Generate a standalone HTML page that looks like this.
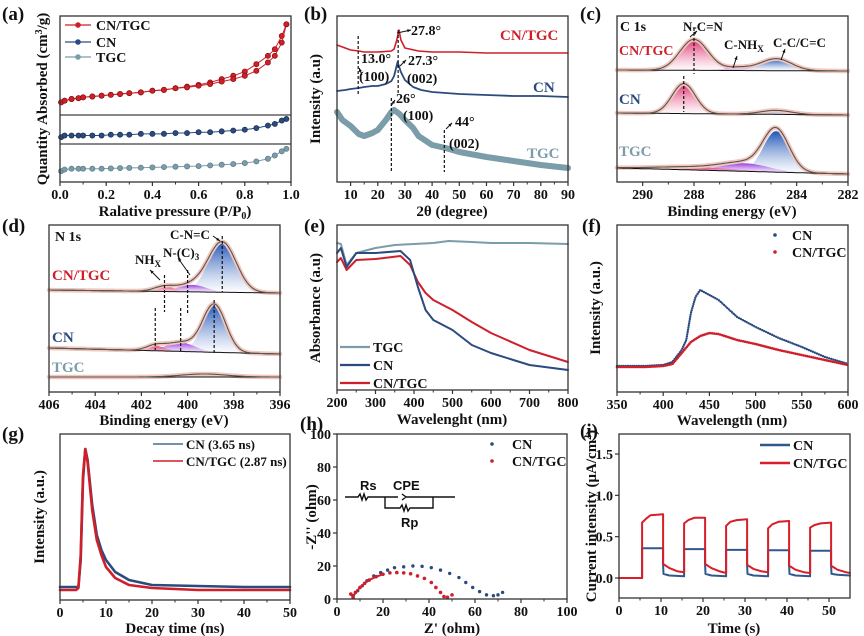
<!DOCTYPE html>
<html><head><meta charset="utf-8"><style>
body{margin:0;background:#fff;}
svg{display:block;font-family:"Liberation Serif",serif;font-weight:bold;}
</style></head><body>
<svg id="fig" width="864" height="636" viewBox="0 0 864 636" xmlns="http://www.w3.org/2000/svg">
<defs>
<linearGradient id="gPink" x1="0" y1="0" x2="0" y2="1"><stop offset="0" stop-color="#e0306e"/><stop offset="1" stop-color="#fff" stop-opacity="0.6"/></linearGradient>
<linearGradient id="gBlue" x1="0" y1="0" x2="0" y2="1"><stop offset="0" stop-color="#1f55b8"/><stop offset="1" stop-color="#fff" stop-opacity="0.6"/></linearGradient>
<linearGradient id="gPurp" x1="0" y1="0" x2="0" y2="1"><stop offset="0" stop-color="#9a3ee0"/><stop offset="1" stop-color="#fff" stop-opacity="0.6"/></linearGradient>
</defs>
</svg>
<script>
// ---------- data ----------
// (a) BET isotherms
const pA=[0.005,0.02,0.05,0.08,0.1,0.14,0.18,0.22,0.26,0.3,0.35,0.4,0.45,0.5,0.55,0.6,0.65,0.7,0.75,0.8,0.85,0.9,0.93,0.96,0.98];
const aCNTGC=[48,49,50,50.5,51,51.5,52,52.5,53,53.5,54,55,55.5,56.5,57,58,59,60.5,62,64,67,72,76,84,95];
const aCNTGCdes=[48,49,50,50.5,51,51.5,52,52.5,53,53.5,54,55,55.5,56.5,57.5,58.5,60,62,64,66.5,71,76,80,88,95];
const aCN=[27,28,28,28,28,28,28,28.5,28.5,28.5,29,29,29,29.5,29.5,30,30,30.5,31,31.5,32.5,34,35,37,38];
const aTGC=[6.5,7.5,8,8,8,8,8,8.2,8.4,8.5,8.6,8.8,9,9.2,9.4,9.6,10,10.4,10.8,11.4,12.4,14,16,18.5,20];
const xTicksA=[0,0.2,0.4,0.6,0.8,1.0];
const xLabA=["0.0","0.2","0.4","0.6","0.8","1.0"];
// (b) XRD
const bX1=[5,8,10,13,15,20,25,26,27,27.8,28.5,30,35,40,50,60,70,80,90];
const bCNTGC=[137,134,132,131,130,130,131,133,142,152,142,134,131,130,130,129,129,129,129];
const bX2=[5,8,10,13,15,18,20,23,25,26,27.3,28.5,30,33,36,40,50,60,70,80,90];
const bCN=[91,92,93,94,95,96,96,98,101,106,120,110,102,95,92,90,88,87,86,86,85];
const bX3=[5,7,10,13,15,18,20,23,25,26,28,30,33,35,40,45,50,60,70,80,90];
const bTGC=[70,62,56,48,46,49,52,62,70,72,68,62,54,46,37,34,30,25,21,17,14];
const xTicksB=[10,20,30,40,50,60,70,80,90];
// (c) C1s fits
const cBase=[[112,111],[69,67],[14,8]];
const cCenters=[[288.0,286.3,284.8],[288.4,284.8],[284.8,286.0,288.0]];
const cHeights=[[31,3,12],[30,4],[41,8,3]];
const cSigmas=[[0.55,0.5,0.6],[0.45,0.6],[0.5,0.9,1.5]];
const cFills=[["gPink","gPurp","gBlue"],["gPink","gBlue"],["gBlue","gPurp","gPink"]];
const xTicksC=[290,288,286,284,282];
// (d) N1s fits
const dBase=[[102,99],[44,38],[15,15]];
const dCenters=[[398.5,399.8,401.0],[398.85,400.3,401.4],[399.3]];
const dHeights=[[50,7,5],[48,9,5],[3]];
const dSigmas=[[0.6,0.6,0.45],[0.5,0.6,0.4],[1.0]];
const dFills=[["gBlue","gPurp","gPink"],["gBlue","gPurp","gPink"],["gBlue"]];
const xTicksD=[406,404,402,400,398,396];
// (e) UV-vis
const eX1=[200,210,225,250,300,350,400,450,490,550,600,700,800];
const eTGC=[147,146,125,137,142,145,146,147,149,148,147,147,146];
const eX2=[200,210,225,250,300,365,390,410,430,450,500,550,600,700,800];
const eCN=[137,142,123,137,137,139,130,103,80,70,60,45,37,25,20];
const eCNTGC=[128,132,120,130,131,134,125,108,97,90,80,68,57,40,28];
const xTicksE=[200,300,400,500,600,700,800];
// (f) PL
const fX=[350,380,400,410,420,425,430,435,440,450,460,480,500,525,550,575,600];
const fCN=[26,26,27,30,42,52,79,95,102,97,92,75,65,54,45,35,28];
const fX2=[350,380,400,410,420,430,440,450,460,480,500,525,550,575,600];
const fCNTGC=[25,25,26,28,39,50,56,59,58,52,48,42,37,32,27];
const xTicksF=[350,400,450,500,550,600];
// (g) TRPL
const gX=[0,2,3.5,4,4.5,5,5.5,6,7,8,9,10,12,15,20,30,40,50];
const gCN=[13,13,13,13,40,120,151,140,95,65,50,40,28,20,15,14,13,13];
const gCNTGC=[10,10,10,12,45,125,151,138,90,60,45,33,22,15,12,10,10,10];
const xTicksG=[0,10,20,30,40,50];
// (h) EIS
const hXcn=[7,9,11,13,16,19,22,25,29,33,37,41,45,49,53,56,59,62,65,68,70,72];
const hYcn=[2,5,8,11,14,16,17.5,19,19.5,20,19.8,19,17.5,15.5,13,10,7,4.5,2.5,2,2.5,4];
const hXct=[6,7,8,10,12,14,17,20,23,26,29,32,35,38,41,43,45,46.5,48,50];
const hYct=[3,1,4,7,9.5,11.5,13.5,15,15.8,16,15.8,15.3,14,12.5,10,7,4,1.5,1,2.5];
const xTicksH=[0,20,40,60,80,100];
const yTicksH=[0,20,40,60,80,100];
// (i) photocurrent
const iTcn=[0,5.5,5.5,10.5,10.5,10.6,12,15.5,15.5,20.5,20.5,20.6,22,25.5,25.5,30.5,30.5,30.6,32,35.5,35.5,40.5,40.5,40.6,42,45.5,45.5,50.5,50.5,50.6,52,55];
const iCN=[0,0,0.36,0.36,0.16,0.05,0.03,0.02,0.35,0.35,0.16,0.05,0.03,0.02,0.34,0.34,0.16,0.05,0.03,0.02,0.335,0.335,0.15,0.05,0.03,0.02,0.33,0.33,0.15,0.05,0.04,0.03];
const iTct=[0,5.5,5.5,6.5,7.5,10.5,10.5,12,14,15.5,15.5,16.5,18,20.5,20.5,22,24,25.5,25.5,26.5,28,30.5,30.5,32,34,35.5,35.5,36.5,38,40.5,40.5,42,44,45.5,45.5,46.5,48,50.5,50.5,52,54,55];
const iCT=[0,0,0.67,0.72,0.76,0.77,0.17,0.12,0.08,0.07,0.66,0.7,0.73,0.73,0.17,0.12,0.08,0.06,0.63,0.68,0.70,0.71,0.16,0.11,0.08,0.07,0.6,0.65,0.68,0.69,0.15,0.1,0.07,0.06,0.61,0.64,0.66,0.67,0.15,0.1,0.07,0.06];
const xTicksI=[0,10,20,30,40,50];
const yTicksI=[0,0.5,1.0,1.5];
const yLabI=["0.0","0.5","1.0","1.5"];

// ---------- helpers ----------
const NS="http://www.w3.org/2000/svg";
const svg=document.getElementById('fig');
const RED="#cf1f2a",NAVY="#2b4a7e",TGCC="#7b9ca9";
function mk(tag,attrs,name,inter){
  const el=document.createElementNS(NS,tag);
  for(const k in attrs) el.setAttribute(k,attrs[k]);
  
  
  svg.appendChild(el);return el;
}
function txt(x,y,s,name,o){
  o=o||{};
  const el=mk('text',{x:x,y:y,'font-size':o.fs||13,fill:o.fill||'#111','text-anchor':o.anchor||'start','font-family':o.ff||'"Liberation Serif",serif'},name);
  if(o.rot) el.setAttribute('transform','rotate(-90 '+x+' '+y+')');
  el.innerHTML=s;return el;
}
function scale(d0,d1,r0,r1){return v=>r0+(v-d0)/(d1-d0)*(r1-r0);}
function panel(L,R,T,B,xd,yd){return {L,R,T,B,x:scale(xd[0],xd[1],L,R),y:scale(yd[0],yd[1],B,T)};}
function frame(P,key){mk('rect',{x:P.L,y:P.T,width:P.R-P.L,height:P.B-P.T,fill:'none',stroke:'#333','stroke-width':1.3},key+'-plot-frame');}
function xAxis(P,ticks,labels,minorStep,key){
  ticks.forEach((t,i)=>{const X=P.x(t);
    mk('line',{x1:X,x2:X,y1:P.B,y2:P.B+4,stroke:'#333','stroke-width':1.2},key+'-x-tick');
    txt(X,P.B+17,labels?labels[i]:String(t),key+'-x-tick-label',{anchor:'middle',fs:14});
    if(minorStep&&i<ticks.length-1){const Xm=P.x(t+minorStep);
      mk('line',{x1:Xm,x2:Xm,y1:P.B,y2:P.B+2.5,stroke:'#333','stroke-width':1},key+'-x-minor-tick');}
  });
}
function yAxis(P,ticks,labels,key){
  ticks.forEach((t,i)=>{const Y=P.y(t);
    mk('line',{x1:P.L-4,x2:P.L,y1:Y,y2:Y,stroke:'#333','stroke-width':1.2},key+'-y-tick');
    txt(P.L-6,Y+5,labels?labels[i]:String(t),key+'-y-tick-label',{anchor:'end',fs:14});
  });
}
function pathD(P,xs,ys){return xs.map((v,i)=>(i?'L':'M')+P.x(v).toFixed(1)+','+P.y(ys[i]).toFixed(1)).join('');}
function line(P,xs,ys,color,w,name,extra){const a={d:pathD(P,xs,ys),fill:'none',stroke:color,'stroke-width':w,'stroke-linejoin':'round','stroke-linecap':'round'};
  if(extra)for(const k in extra)a[k]=extra[k];return mk('path',a,name);}
function dots(P,xs,ys,color,r,name,stroke){xs.forEach((v,i)=>{mk('circle',{cx:P.x(v),cy:P.y(ys[i]),r:r,fill:color,stroke:stroke||'none','stroke-width':0.7},name);});}
function dashed(x1,y1,x2,y2,name){mk('line',{x1,y1,x2,y2,stroke:'#111','stroke-width':1.2,'stroke-dasharray':'3,2'},name);}
function arrow(x1,y1,x2,y2,name){mk('line',{x1,y1,x2,y2,stroke:'#111','stroke-width':1},name);
  const a=Math.atan2(y2-y1,x2-x1),s=4;
  mk('path',{d:'M'+x2+','+y2+'L'+(x2-s*Math.cos(a-0.4))+','+(y2-s*Math.sin(a-0.4))+'L'+(x2-s*Math.cos(a+0.4))+','+(y2-s*Math.sin(a+0.4))+'Z',fill:'#111'},name+'-head');}
function gauss(x,c,h,s){return h*Math.exp(-0.5*((x-c)/s)**2);}
function xps(P,x0,x1,base,cs,hs,ss,fills,key){
  const n=120,xs=[];for(let i=0;i<=n;i++)xs.push(x0+(x1-x0)*i/n);
  const bl=x=>base[0]+(base[1]-base[0])*(x-x0)/(x1-x0);
  cs.forEach((c,j)=>{
    let d='';xs.forEach((x,i)=>{d+=(i?'L':'M')+P.x(x).toFixed(1)+','+P.y(bl(x)+gauss(x,c,hs[j],ss[j])).toFixed(1);});
    for(let i=n;i>=0;i--)d+='L'+P.x(xs[i]).toFixed(1)+','+P.y(bl(xs[i])).toFixed(1);
    mk('path',{d:d+'Z',fill:'url(#'+fills[j]+')',stroke:'none'},key+'-component-peak');
  });
  const env=xs.map(x=>bl(x)+cs.reduce((s,c,j)=>s+gauss(x,c,hs[j],ss[j]),0));
  line(P,xs,env,'#f1c6bc',4.5,key+'-raw-data');
  line(P,xs,xs.map(bl),'#111',1,key+'-background');
  line(P,xs,env,'#555',1.1,key+'-envelope-fit');
}
function ylabel(x,cy,s,name){txt(x,cy,s,name,{anchor:'middle',rot:true,fs:15});}
function xlabel(cx,y,s,name){txt(cx,y,s,name,{anchor:'middle',fs:15});}

// ---------- (a) ----------
{const P=panel(60,291,16,182,[0,1],[0,100]);
 mk('line',{x1:60,x2:291,y1:115,y2:115,stroke:'#111','stroke-width':1},'a-separator');
 mk('line',{x1:60,x2:291,y1:144,y2:144,stroke:'#111','stroke-width':1},'a-separator');
 line(P,pA,aCNTGCdes,RED,1,'a-cntgc-desorption');dots(P,pA,aCNTGCdes,RED,2.6,'a-cntgc-desorption-marker','#8a1010');
 line(P,pA,aCNTGC,RED,1,'a-cntgc-adsorption');dots(P,pA,aCNTGC,RED,2.6,'a-cntgc-marker','#8a1010');
 line(P,pA,aCN,NAVY,1,'a-cn-line');dots(P,pA,aCN,NAVY,2.6,'a-cn-marker','#1a2f55');
 line(P,pA,aTGC,TGCC,1,'a-tgc-line');dots(P,pA,aTGC,TGCC,2.6,'a-tgc-marker','#5a7a88');
 frame(P,'a');xAxis(P,xTicksA,xLabA,0.1,'a');
 [[RED,'CN/TGC',25],[NAVY,'CN',42],[TGCC,'TGC',57]].forEach(r=>{
  mk('line',{x1:65,x2:91,y1:r[2],y2:r[2],stroke:r[0],'stroke-width':1.3},'a-legend-line');
  mk('circle',{cx:78,cy:r[2],r:2.8,fill:r[0]},'a-legend-marker');
  txt(96,r[2]+5,r[1],'a-legend-label',{fs:14});});
 xlabel(175,216,'Ralative pressure (P/P<tspan font-size="10" dy="3">0</tspan><tspan dy="-3">)</tspan>','a-x-axis-title');
 ylabel(47,99,'Quantity Absorbed (cm<tspan font-size="10" dy="-5">3</tspan><tspan dy="5">/g)</tspan>','a-y-axis-title');
 txt(2,20,'(a)','panel-label-a',{fs:19});}

// ---------- (b) ----------
{const P=panel(337,568,16,182,[5,90],[0,166]);
 line(P,bX3,bTGC,TGCC,6,'b-tgc-pattern');
 line(P,bX2,bCN,NAVY,1.8,'b-cn-pattern');
 line(P,bX1,bCNTGC,RED,1.6,'b-cntgc-pattern');
 frame(P,'b');xAxis(P,xTicksB,null,5,'b');
 dashed(P.x(12.8),36,P.x(12.8),96,'b-dash-13');dashed(P.x(27.5),30,P.x(27.5),93,'b-dash-27');
 dashed(P.x(25),98,P.x(25),172,'b-dash-26');dashed(P.x(44.5),130,P.x(44.5),172,'b-dash-44');
 arrow(397,33,411,30,'b-arrow-27-8');arrow(362,75,359,68,'b-arrow-13');arrow(400,66,406,60,'b-arrow-27-3');arrow(391,106,395,100,'b-arrow-26');arrow(446,129,452,123,'b-arrow-44');
 txt(411,35,'27.8°','b-label-27-8',{fs:14});txt(500,40,'CN/TGC','b-label-cntgc',{fs:15,fill:RED});
 txt(361,63,'13.0°','b-label-13',{fs:14});txt(359,81,'(100)','b-label-100a',{fs:14});
 txt(408,65,'27.3°','b-label-27-3',{fs:14});txt(407,83,'(002)','b-label-002a',{fs:14});
 txt(533,92,'CN','b-label-cn',{fs:15,fill:NAVY});
 txt(396,103,'26°','b-label-26',{fs:14});txt(403,120,'(100)','b-label-100b',{fs:14});
 txt(455,126,'44°','b-label-44',{fs:14});txt(449,148,'(002)','b-label-002b',{fs:14});
 txt(527,158,'TGC','b-label-tgc',{fs:15,fill:TGCC});
 xlabel(452,216,'2θ (degree)','b-x-axis-title');ylabel(320,99,'Intensity (a.u)','b-y-axis-title');
 txt(304,20,'(b)','panel-label-b',{fs:19});}

// ---------- (c) ----------
{const P=panel(617,848,16,182,[291,282],[0,166]);
 ['cntgc','cn','tgc'].forEach((k,i)=>xps(P,291,282,cBase[i],cCenters[i],cHeights[i],cSigmas[i],cFills[i],'c-'+k));
 frame(P,'c');xAxis(P,xTicksC,null,-1,'c');
 dashed(P.x(288.0),28,P.x(288.0),74,'c-dash-cntgc');dashed(P.x(288.4),76,P.x(288.4),112,'c-dash-cn');
 arrow(690,37,697,31,'c-arrow-ncn');arrow(733,68,737,56,'c-arrow-cnhx');arrow(781,60,785,49,'c-arrow-cc');
 txt(620,31,'C 1s','c-label-c1s',{fs:14});txt(683,31,'N-C=N','c-label-ncn',{fs:13});
 txt(619,55,'CN/TGC','c-label-cntgc',{fs:14,fill:RED});
 txt(724,49,'C-NH<tspan font-size="9" dy="3">X</tspan>','c-label-cnhx',{fs:13});
 txt(773,47,'C-C/C=C','c-label-cc',{fs:13});
 txt(619,104,'CN','c-label-cn',{fs:15,fill:NAVY});txt(619,156,'TGC','c-label-tgc',{fs:15,fill:TGCC});
 xlabel(732,216,'Binding energy (eV)','c-x-axis-title');
 txt(580,20,'(c)','panel-label-c',{fs:19});}

// ---------- (d) ----------
{const P=panel(49,280,225,392,[406,396],[0,167]);
 ['cntgc','cn','tgc'].forEach((k,i)=>xps(P,406,396,dBase[i],dCenters[i],dHeights[i],dSigmas[i],dFills[i],'d-'+k));
 frame(P,'d');xAxis(P,xTicksD,null,-1,'d');
 dashed(P.x(398.5),236,P.x(398.5),292,'d-dash-cnc-1');dashed(P.x(401.0),275,P.x(401.0),312,'d-dash-nhx-1');dashed(P.x(400.0),270,P.x(400.0),313,'d-dash-nc3-1');
 dashed(P.x(401.4),308,P.x(401.4),350,'d-dash-nhx-2');dashed(P.x(400.3),308,P.x(400.3),352,'d-dash-nc3-2');dashed(P.x(398.85),300,P.x(398.85),353,'d-dash-cnc-2');
 arrow(160,280,150,270,'d-arrow-nhx');arrow(190,275,178,258,'d-arrow-nc3');arrow(213,236,220,241,'d-arrow-cnc');
 txt(55,241,'N 1s','d-label-n1s',{fs:14});txt(170,239,'C-N=C','d-label-cnc',{fs:13});
 txt(135,264,'NH<tspan font-size="9" dy="3">X</tspan>','d-label-nhx',{fs:13});
 txt(163,257,'N-(C)<tspan font-size="9" dy="3">3</tspan>','d-label-nc3',{fs:13});
 txt(52,280,'CN/TGC','d-label-cntgc',{fs:15,fill:RED});txt(52,342,'CN','d-label-cn',{fs:15,fill:NAVY});
 txt(52,372,'TGC','d-label-tgc',{fs:15,fill:TGCC});
 xlabel(164,425,'Binding energy (eV)','d-x-axis-title');
 txt(2,232,'(d)','panel-label-d',{fs:19});}

// ---------- (e) ----------
{const P=panel(337,568,225,390,[200,800],[0,165]);
 line(P,eX1,eTGC,TGCC,2,'e-tgc-line');line(P,eX2,eCNTGC,RED,2,'e-cntgc-line');line(P,eX2,eCN,NAVY,2,'e-cn-line');
 frame(P,'e');xAxis(P,xTicksE,null,50,'e');
 [[TGCC,'TGC',347],[NAVY,'CN',365],[RED,'CN/TGC',383]].forEach(r=>{
  mk('line',{x1:340,x2:370,y1:r[2],y2:r[2],stroke:r[0],'stroke-width':2.2},'e-legend-line');
  txt(373,r[2]+5,r[1],'e-legend-label',{fs:14});});
 xlabel(452,424,'Wavelenght (nm)','e-x-axis-title');ylabel(320,308,'Absorbance (a.u)','e-y-axis-title');
 txt(304,232,'(e)','panel-label-e',{fs:19});}

// ---------- (f) ----------
{const P=panel(617,848,225,392,[350,600],[0,167]);
 line(P,fX,fCN,NAVY,2.4,'f-cn-points',{'stroke-dasharray':'0 2.2'});
 line(P,fX2,fCNTGC,RED,2.6,'f-cntgc-points',{'stroke-dasharray':'0 2'});
 frame(P,'f');xAxis(P,xTicksF,null,25,'f');
 mk('circle',{cx:775,cy:235,r:1.8,fill:NAVY},'f-legend-marker');txt(792,240,'CN','f-legend-label',{fs:14});
 mk('circle',{cx:775,cy:252,r:1.8,fill:RED},'f-legend-marker');txt(792,257,'CN/TGC','f-legend-label',{fs:14});
 xlabel(732,425,'Wavelength (nm)','f-x-axis-title');ylabel(600,308,'Intensity (a.u.)','f-y-axis-title');
 txt(582,232,'(f)','panel-label-f',{fs:19});}

// ---------- (g) ----------
{const P=panel(60,290,434,600,[0,50],[0,166]);
 line(P,gX,gCN,NAVY,2.6,'g-cn-decay');line(P,gX,gCNTGC,RED,2.6,'g-cntgc-decay');
 frame(P,'g');xAxis(P,xTicksG,null,5,'g');
 mk('line',{x1:153,x2:183,y1:444,y2:444,stroke:'#4a6a90','stroke-width':1.6},'g-legend-line');txt(186,449,'CN (3.65 ns)','g-legend-label',{fs:13});
 mk('line',{x1:153,x2:183,y1:461,y2:461,stroke:RED,'stroke-width':1.6},'g-legend-line');txt(186,466,'CN/TGC (2.87 ns)','g-legend-label',{fs:13});
 xlabel(175,633,'Decay time (ns)','g-x-axis-title');ylabel(44,517,'Intensity (a.u.)','g-y-axis-title');
 txt(2,440,'(g)','panel-label-g',{fs:19});}

// ---------- (h) ----------
{const P=panel(337,567,434,599,[0,100],[0,100]);
 dots(P,hXcn,hYcn,NAVY,1.7,'h-cn-point');dots(P,hXct,hYct,RED,1.8,'h-cntgc-point');
 line(P,hXct.slice(0,8),hYct.slice(0,8),RED,2,'h-cntgc-low-freq');
 frame(P,'h');xAxis(P,xTicksH,null,10,'h');yAxis(P,yTicksH,null,'h');
 mk('circle',{cx:492,cy:444,r:1.8,fill:NAVY},'h-legend-marker');txt(512,449,'CN','h-legend-label',{fs:14});
 mk('circle',{cx:492,cy:461,r:1.8,fill:RED},'h-legend-marker');txt(512,466,'CN/TGC','h-legend-label',{fs:14});
 mk('path',{d:'M345,497H358l2,-3l2,6l2,-6l2,6l2,-3H398M402,494l4,3l-4,3M405,497H455M385,497V508H400l2,-3l2,6l2,-6l2,6l2,-3H433V497',fill:'none',stroke:'#111','stroke-width':1.4},'h-equivalent-circuit');
 txt(360,490,'Rs','h-circuit-rs',{fs:13,ff:'"Liberation Sans",sans-serif'});
 txt(393,490,'CPE','h-circuit-cpe',{fs:13,ff:'"Liberation Sans",sans-serif'});
 txt(401,527,'Rp','h-circuit-rp',{fs:13,ff:'"Liberation Sans",sans-serif'});
 xlabel(452,633,"Z' (ohm)",'h-x-axis-title');ylabel(316,517,"-Z'' (ohm)",'h-y-axis-title');
 txt(300,430,'(h)','panel-label-h',{fs:19});}

// ---------- (i) ----------
{const P=panel(619,850,434,598,[0,55],[-0.242,1.742]);
 line(P,iTcn,iCN,'#30588f',2,'i-cn-current');line(P,iTct,iCT,'#d81e28',2,'i-cntgc-current');
 frame(P,'i');xAxis(P,xTicksI,null,5,'i');yAxis(P,yTicksI,yLabI,'i');
 mk('line',{x1:760,x2:790,y1:445,y2:445,stroke:'#30588f','stroke-width':2.4},'i-legend-line');txt(793,450,'CN','i-legend-label',{fs:14});
 mk('line',{x1:760,x2:790,y1:463,y2:463,stroke:'#d81e28','stroke-width':2.4},'i-legend-line');txt(793,468,'CN/TGC','i-legend-label',{fs:14});
 xlabel(734,633,'Time (s)','i-x-axis-title');
 ylabel(596,516,'Current intensity (μA/cm<tspan font-size="10" dy="-5">2</tspan><tspan dy="5">)</tspan>','i-y-axis-title');
 txt(580,437,'(i)','panel-label-i',{fs:19});}
</script>
</body></html>
